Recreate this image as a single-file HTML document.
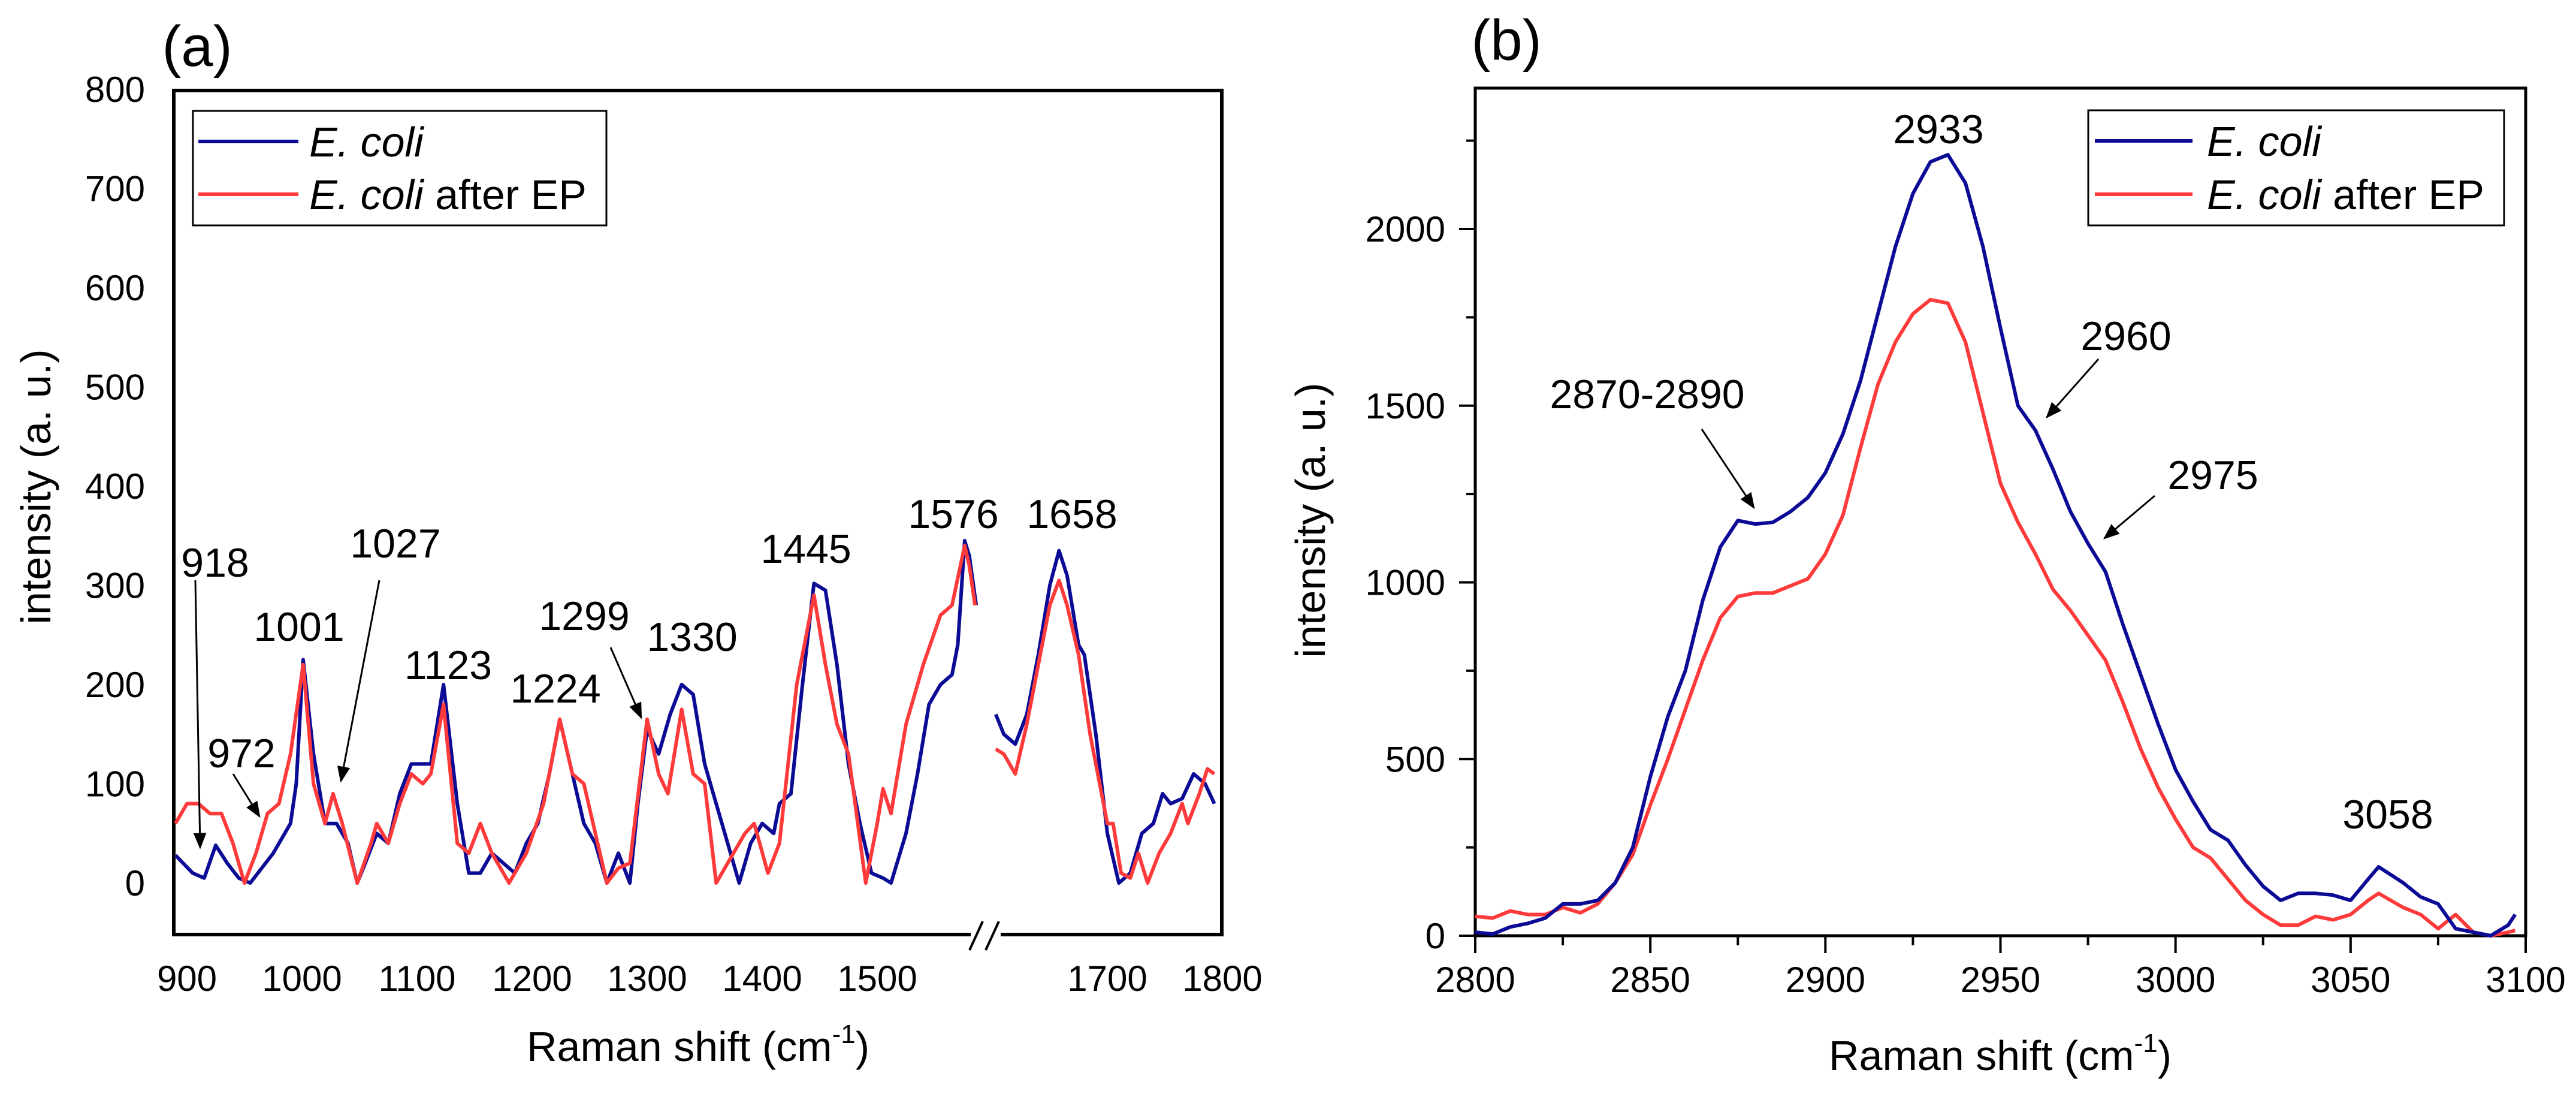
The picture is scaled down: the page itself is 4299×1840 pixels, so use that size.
<!DOCTYPE html>
<html><head><meta charset="utf-8"><style>
html,body{margin:0;padding:0;background:#fff;}
svg{display:block;font-family:"Liberation Sans",sans-serif;}
</style></head><body>
<svg id="fig" width="4299" height="1840" viewBox="0 0 4299 1840" xmlns="http://www.w3.org/2000/svg">
<defs><marker id="ah" viewBox="0 0 10 10" refX="9" refY="5" markerWidth="9" markerHeight="9" orient="auto-start-reverse"><path d="M0,1 L10,5 L0,9 z" fill="#000"/></marker></defs>
<g id="pa"></g>
<g id="pb"></g>
</svg>
<script>
// ---------- Panel (a) data ----------
const aBlueX=[890,905,915,925,935,945,955,965,975,985,990,995,1001,1010,1020,1030,1040,1048,1055,1065,1075,1085,1095,1105,1112,1123,1135,1145,1155,1165,1175,1185,1195,1205,1215,1224,1235,1245,1255,1265,1275,1285,1292,1300,1310,1320,1330,1340,1350,1360,1370,1380,1390,1400,1410,1415,1425,1435,1445,1455,1465,1475,1485,1495,1505,1512,1525,1535,1545,1555,1565,1570,1576,1580,1586];
const aBlueY=[28,10,5,38,20,5,0,15,30,50,60,100,225,130,60,60,40,0,20,50,40,90,120,120,120,200,80,10,10,30,20,10,40,60,110,165,110,60,40,0,30,0,80,155,130,170,200,190,120,80,40,0,40,60,50,80,90,200,302,295,220,120,60,10,5,0,50,110,180,200,210,240,345,330,280];
const aBlueX2=[1603,1610,1620,1630,1640,1650,1658,1665,1675,1680,1690,1700,1710,1720,1730,1740,1748,1755,1765,1775,1785,1793];
const aBlueY2=[170,150,140,170,230,300,335,310,240,230,150,50,0,10,50,60,90,80,85,110,100,80];
const aRedX=[890,900,910,920,930,940,950,960,970,980,990,1001,1010,1020,1027,1035,1048,1060,1065,1075,1085,1095,1105,1112,1123,1135,1145,1155,1165,1180,1195,1210,1224,1235,1245,1255,1265,1275,1285,1300,1310,1318,1330,1340,1350,1360,1375,1385,1393,1405,1415,1430,1445,1455,1465,1475,1490,1500,1505,1512,1525,1540,1555,1565,1576,1580,1585];
const aRedY=[60,80,80,70,70,40,0,30,70,80,130,220,100,60,90,60,0,40,60,40,80,110,100,110,180,40,30,60,30,0,30,80,165,110,100,50,0,15,20,165,110,90,175,110,100,0,30,50,60,10,40,200,290,220,160,130,0,60,95,70,160,220,270,280,340,320,280];
const aRedX2=[1603,1610,1620,1630,1640,1650,1658,1665,1675,1685,1700,1705,1712,1720,1727,1735,1745,1755,1765,1770,1780,1787,1793];
const aRedY2=[135,130,110,160,220,280,305,280,230,150,60,60,10,5,30,0,30,50,80,60,90,115,110];
const aXTicks=[900,1000,1100,1200,1300,1400,1500,1700,1800];
const aYTicks=[0,100,200,300,400,500,600,700,800];
// ---------- Panel (b) data ----------
const bX=[2800,2805,2810,2815,2820,2825,2830,2835,2840,2845,2850,2855,2860,2865,2870,2875,2880,2885,2890,2895,2900,2905,2910,2915,2920,2925,2930,2935,2940,2945,2950,2955,2960,2965,2970,2975,2980,2985,2990,2995,3000,3005,3010,3015,3020,3025,3030,3035,3040,3045,3050,3055,3058,3065,3070,3075,3080,3085,3090,3095,3097];
const bBlue=[10,5,25,35,50,90,90,100,150,250,450,620,750,950,1100,1175,1165,1170,1200,1240,1310,1420,1570,1760,1950,2100,2190,2210,2130,1950,1720,1500,1430,1320,1200,1110,1030,880,740,600,470,380,300,270,200,140,100,120,120,115,100,160,195,150,110,90,20,10,0,30,60];
const bRed=[55,50,70,60,60,80,65,90,150,230,370,500,640,780,900,960,970,970,990,1010,1080,1190,1380,1560,1680,1760,1800,1790,1680,1480,1280,1170,1080,980,920,850,780,660,530,420,330,250,220,160,100,60,30,30,55,45,60,100,120,80,60,20,60,10,0,10,15];
const bXTicks=[2800,2850,2900,2950,3000,3050,3100];
const bYTicks=[0,500,1000,1500,2000];

const NS="http://www.w3.org/2000/svg";
function mk(parent,tag,attrs,text){const e=document.createElementNS(NS,tag);for(const k in attrs)e.setAttribute(k,attrs[k]);if(text!==undefined)e.textContent=text;parent.appendChild(e);return e;}

const xa=v=>312+(v-900)*(2040-312)/900;
const ya=v=>1473-v*(1473-149)/800;
const xb=v=>2462+(v-2800)*(4215-2462)/300;
const yb=v=>1561-v*(1561-382)/2000;

function pts(xs,ys,fx,fy){return xs.map((x,i)=>fx(x).toFixed(1)+","+fy(ys[i]).toFixed(1)).join(" ");}
const SW=6;

// ---------- Panel a ----------
const pa=document.getElementById('pa');
let t;
t=mk(pa,'text',{x:329,y:110,'font-size':96,'text-anchor':'middle'},'(a)');


let r=mk(pa,'rect',{x:290,y:151,width:1749,height:1408,fill:'none',stroke:'#000','stroke-width':6});


aYTicks.forEach(v=>{const e=mk(pa,'text',{x:242,y:ya(v)+21,'font-size':60,'text-anchor':'end'},String(v));

});
aXTicks.forEach(v=>{const e=mk(pa,'text',{x:xa(v),y:1653,'font-size':60,'text-anchor':'middle'},String(v));

});
t=mk(pa,'text',{x:1165,y:1770,'font-size':70,'text-anchor':'middle'},'Raman shift (cm');


mk(t,'tspan',{dy:-30,'font-size':44},'-1');
mk(t,'tspan',{dy:30},')');
t=mk(pa,'text',{x:0,y:0,'font-size':70,'text-anchor':'middle',transform:'translate(84,812) rotate(-90)'},'intensity (a. u.)');


let l;
l=mk(pa,'polyline',{points:pts(aBlueX,aBlueY,xa,ya),fill:'none',stroke:'#0b0b96','stroke-width':SW,'stroke-linejoin':'round'});


l=mk(pa,'polyline',{points:pts(aBlueX2,aBlueY2,xa,ya),fill:'none',stroke:'#0b0b96','stroke-width':SW,'stroke-linejoin':'round'});


l=mk(pa,'polyline',{points:pts(aRedX,aRedY,xa,ya),fill:'none',stroke:'#ff3a3a','stroke-width':SW,'stroke-linejoin':'round'});


l=mk(pa,'polyline',{points:pts(aRedX2,aRedY2,xa,ya),fill:'none',stroke:'#ff3a3a','stroke-width':SW,'stroke-linejoin':'round'});


let br=mk(pa,'rect',{x:1620,y:1545,width:50,height:28,fill:'#fff'});


br=mk(pa,'path',{d:'M1618,1585 L1640,1537 M1645,1585 L1667,1537',stroke:'#000','stroke-width':4,fill:'none'});


let lg=mk(pa,'g',{});


mk(lg,'rect',{x:322,y:185,width:690,height:191,fill:'#fff',stroke:'#000','stroke-width':3});
mk(lg,'line',{x1:331,y1:236,x2:498,y2:236,stroke:'#0b0b96','stroke-width':6});
mk(lg,'line',{x1:331,y1:324,x2:498,y2:324,stroke:'#ff3a3a','stroke-width':6});
t=mk(lg,'text',{x:516,y:261,'font-size':70,'font-style':'italic'},'E. coli');


t=mk(lg,'text',{x:516,y:349,'font-size':70},'');


mk(t,'tspan',{'font-style':'italic'},'E. coli');
mk(t,'tspan',{},' after EP');
const aAnn=[['918',359,962],['972',403,1280],['1001',499,1069],['1027',660,930],['1123',748,1133],['1224',927,1172],['1299',975,1051],['1330',1155,1086],['1445',1345,939],['1576',1591,881],['1658',1789,881]];
aAnn.forEach(a=>{const e=mk(pa,'text',{x:a[1],y:a[2],'font-size':68,'text-anchor':'middle'},a[0]);

});
const aArr=[[326,968,334,1414],[389,1291,433,1362],[633,968,569,1303],[1019,1080,1070,1197]];
aArr.forEach(a=>{const e=mk(pa,'line',{x1:a[0],y1:a[1],x2:a[2],y2:a[3],stroke:'#000','stroke-width':3,'marker-end':'url(#ah)'});

});

// ---------- Panel b ----------
const pb=document.getElementById('pb');
t=mk(pb,'text',{x:2514,y:100,'font-size':96,'text-anchor':'middle'},'(b)');


r=mk(pb,'rect',{x:2462,y:147,width:1753,height:1414,fill:'none',stroke:'#000','stroke-width':5});


for(let v=0;v<=2250;v+=250){const major=v%500===0;const e=mk(pb,'line',{x1:major?2435:2447,y1:yb(v),x2:2462,y2:yb(v),stroke:'#000','stroke-width':4});

}
for(let v=2800;v<=3100;v+=25){const major=v%50===0;const e=mk(pb,'line',{x1:xb(v),y1:1561,x2:xb(v),y2:major?1590:1577,stroke:'#000','stroke-width':4});

}
bYTicks.forEach(v=>{const e=mk(pb,'text',{x:2412,y:yb(v)+21,'font-size':60,'text-anchor':'end'},String(v));

});
bXTicks.forEach(v=>{const e=mk(pb,'text',{x:xb(v),y:1655,'font-size':60,'text-anchor':'middle'},String(v));

});
t=mk(pb,'text',{x:3338,y:1785,'font-size':70,'text-anchor':'middle'},'Raman shift (cm');


mk(t,'tspan',{dy:-30,'font-size':44},'-1');
mk(t,'tspan',{dy:30},')');
t=mk(pb,'text',{x:0,y:0,'font-size':70,'text-anchor':'middle',transform:'translate(2211,868) rotate(-90)'},'intensity (a. u.)');


l=mk(pb,'polyline',{points:pts(bX,bRed,xb,yb),fill:'none',stroke:'#ff3a3a','stroke-width':SW,'stroke-linejoin':'round'});


l=mk(pb,'polyline',{points:pts(bX,bBlue,xb,yb),fill:'none',stroke:'#0b0b96','stroke-width':SW,'stroke-linejoin':'round'});


lg=mk(pb,'g',{});


mk(lg,'rect',{x:3485,y:184,width:694,height:192,fill:'#fff',stroke:'#000','stroke-width':3});
mk(lg,'line',{x1:3496,y1:235,x2:3659,y2:235,stroke:'#0b0b96','stroke-width':6});
mk(lg,'line',{x1:3496,y1:324,x2:3659,y2:324,stroke:'#ff3a3a','stroke-width':6});
t=mk(lg,'text',{x:3683,y:260,'font-size':70,'font-style':'italic'},'E. coli');


t=mk(lg,'text',{x:3683,y:349,'font-size':70},'');


mk(t,'tspan',{'font-style':'italic'},'E. coli');
mk(t,'tspan',{},' after EP');
const bAnn=[['2933',3235,239],['2960',3548,584],['2975',3693,816],['2870-2890',2749,681],['3058',3985,1382]];
bAnn.forEach(a=>{const e=mk(pb,'text',{x:a[1],y:a[2],'font-size':68,'text-anchor':'middle'},a[0]);

});
const bArr=[[3502,599,3416,696],[3596,827,3512,898],[2840,716,2927,847]];
bArr.forEach(a=>{const e=mk(pb,'line',{x1:a[0],y1:a[1],x2:a[2],y2:a[3],stroke:'#000','stroke-width':3,'marker-end':'url(#ah)'});

});
</script>
</body></html>
